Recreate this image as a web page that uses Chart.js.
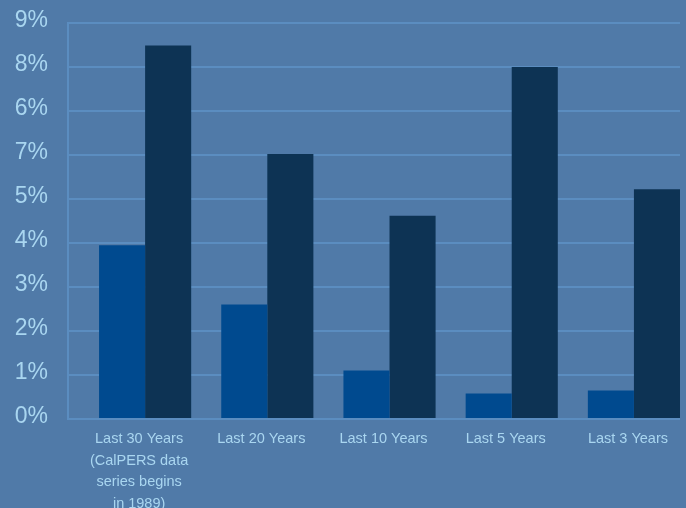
<!DOCTYPE html>
<html>
<head>
<meta charset="utf-8">
<script src="https://cdn.jsdelivr.net/npm/chart.js@4"></script>
<style>
    html, body { margin: 0; padding: 0; background: #507aa8; }
    #box { width: 686px; height: 508px; position: relative; }
</style>
</head>
<body>
<div id="box"><canvas id="historyChart"></canvas></div>
<script>
// 数据
var categories = [
    ['Last 30 Years', '(CalPERS data', 'series begins', 'in 1989)'],
    'Last 20 Years',
    'Last 10 Years',
    'Last 5 Years',
    'Last 3 Years'
];
var seriesA = [3.95, 2.6, 1.1, 0.58, 0.65];
var seriesB = [8.49, 6.02, 4.62, 8.0, 5.22];
var yTickLabels = ['0%', '1%', '2%', '3%', '4%', '5%', '7%', '6%', '8%', '9%'];

var textColor = '#a9d6f0';
var gridColor = '#5b8dc0';
var myChart;

function toPoints(values) {
    return values.map(function (v, i) { return { x: i, y: v }; });
}

// 图表
function initChart() {
    const historyChart = document.getElementById('historyChart');
    const data = {
        datasets: [{
            label: 'Series A',
            data: toPoints(seriesA),
            backgroundColor: '#004a8f',
            categoryPercentage: 0.754,
            barPercentage: 1.0
        }, {
            label: 'Series B',
            data: toPoints(seriesB),
            backgroundColor: '#0d3354',
            categoryPercentage: 0.754,
            barPercentage: 1.0
        }]
    };
    const config = {
        type: 'bar',
        data: data,
        options: {
            responsive: true,
            maintainAspectRatio: false,
            animation: false,
            layout: { padding: { top: 23, right: 6, left: 0, bottom: 0 } },
            plugins: {
                legend: { display: false },
                tooltip: { enabled: false }
            },
            scales: {
                x: {
                    type: 'linear',
                    offset: false,
                    min: -0.631,
                    max: 4.377,
                    afterBuildTicks: function (axis) {
                        axis.ticks = categories.map(function (c, i) { return { value: i }; });
                    },
                    afterFit: function (axis) { axis.height = 89; },
                    grid: { display: false },
                    border: { display: false },
                    ticks: {
                        color: textColor,
                        font: { family: 'Liberation Sans', size: 14.5, lineHeight: 1.5 },
                        padding: 1,
                        labelOffset: -6,
                        maxRotation: 0,
                        autoSkip: false,
                        callback: function (value) { return categories[Math.round(value)]; }
                    }
                },
                y: {
                    min: 0,
                    max: 9,
                    afterFit: function (axis) {
                        axis.width = 68;
                        axis.paddingTop = 0;
                        axis.paddingBottom = 0;
                    },
                    grid: { color: gridColor, lineWidth: 2, drawTicks: false },
                    border: { display: true, color: gridColor, width: 2 },
                    ticks: {
                        stepSize: 1,
                        color: textColor,
                        font: { family: 'Liberation Sans', size: 23 },
                        padding: 20,
                        labelOffset: -2,
                        callback: function (value) { return yTickLabels[Math.round(value)]; }
                    }
                }
            }
        }
    };
    myChart = new Chart(historyChart, config);
}

initChart();
</script>
</body>
</html>
